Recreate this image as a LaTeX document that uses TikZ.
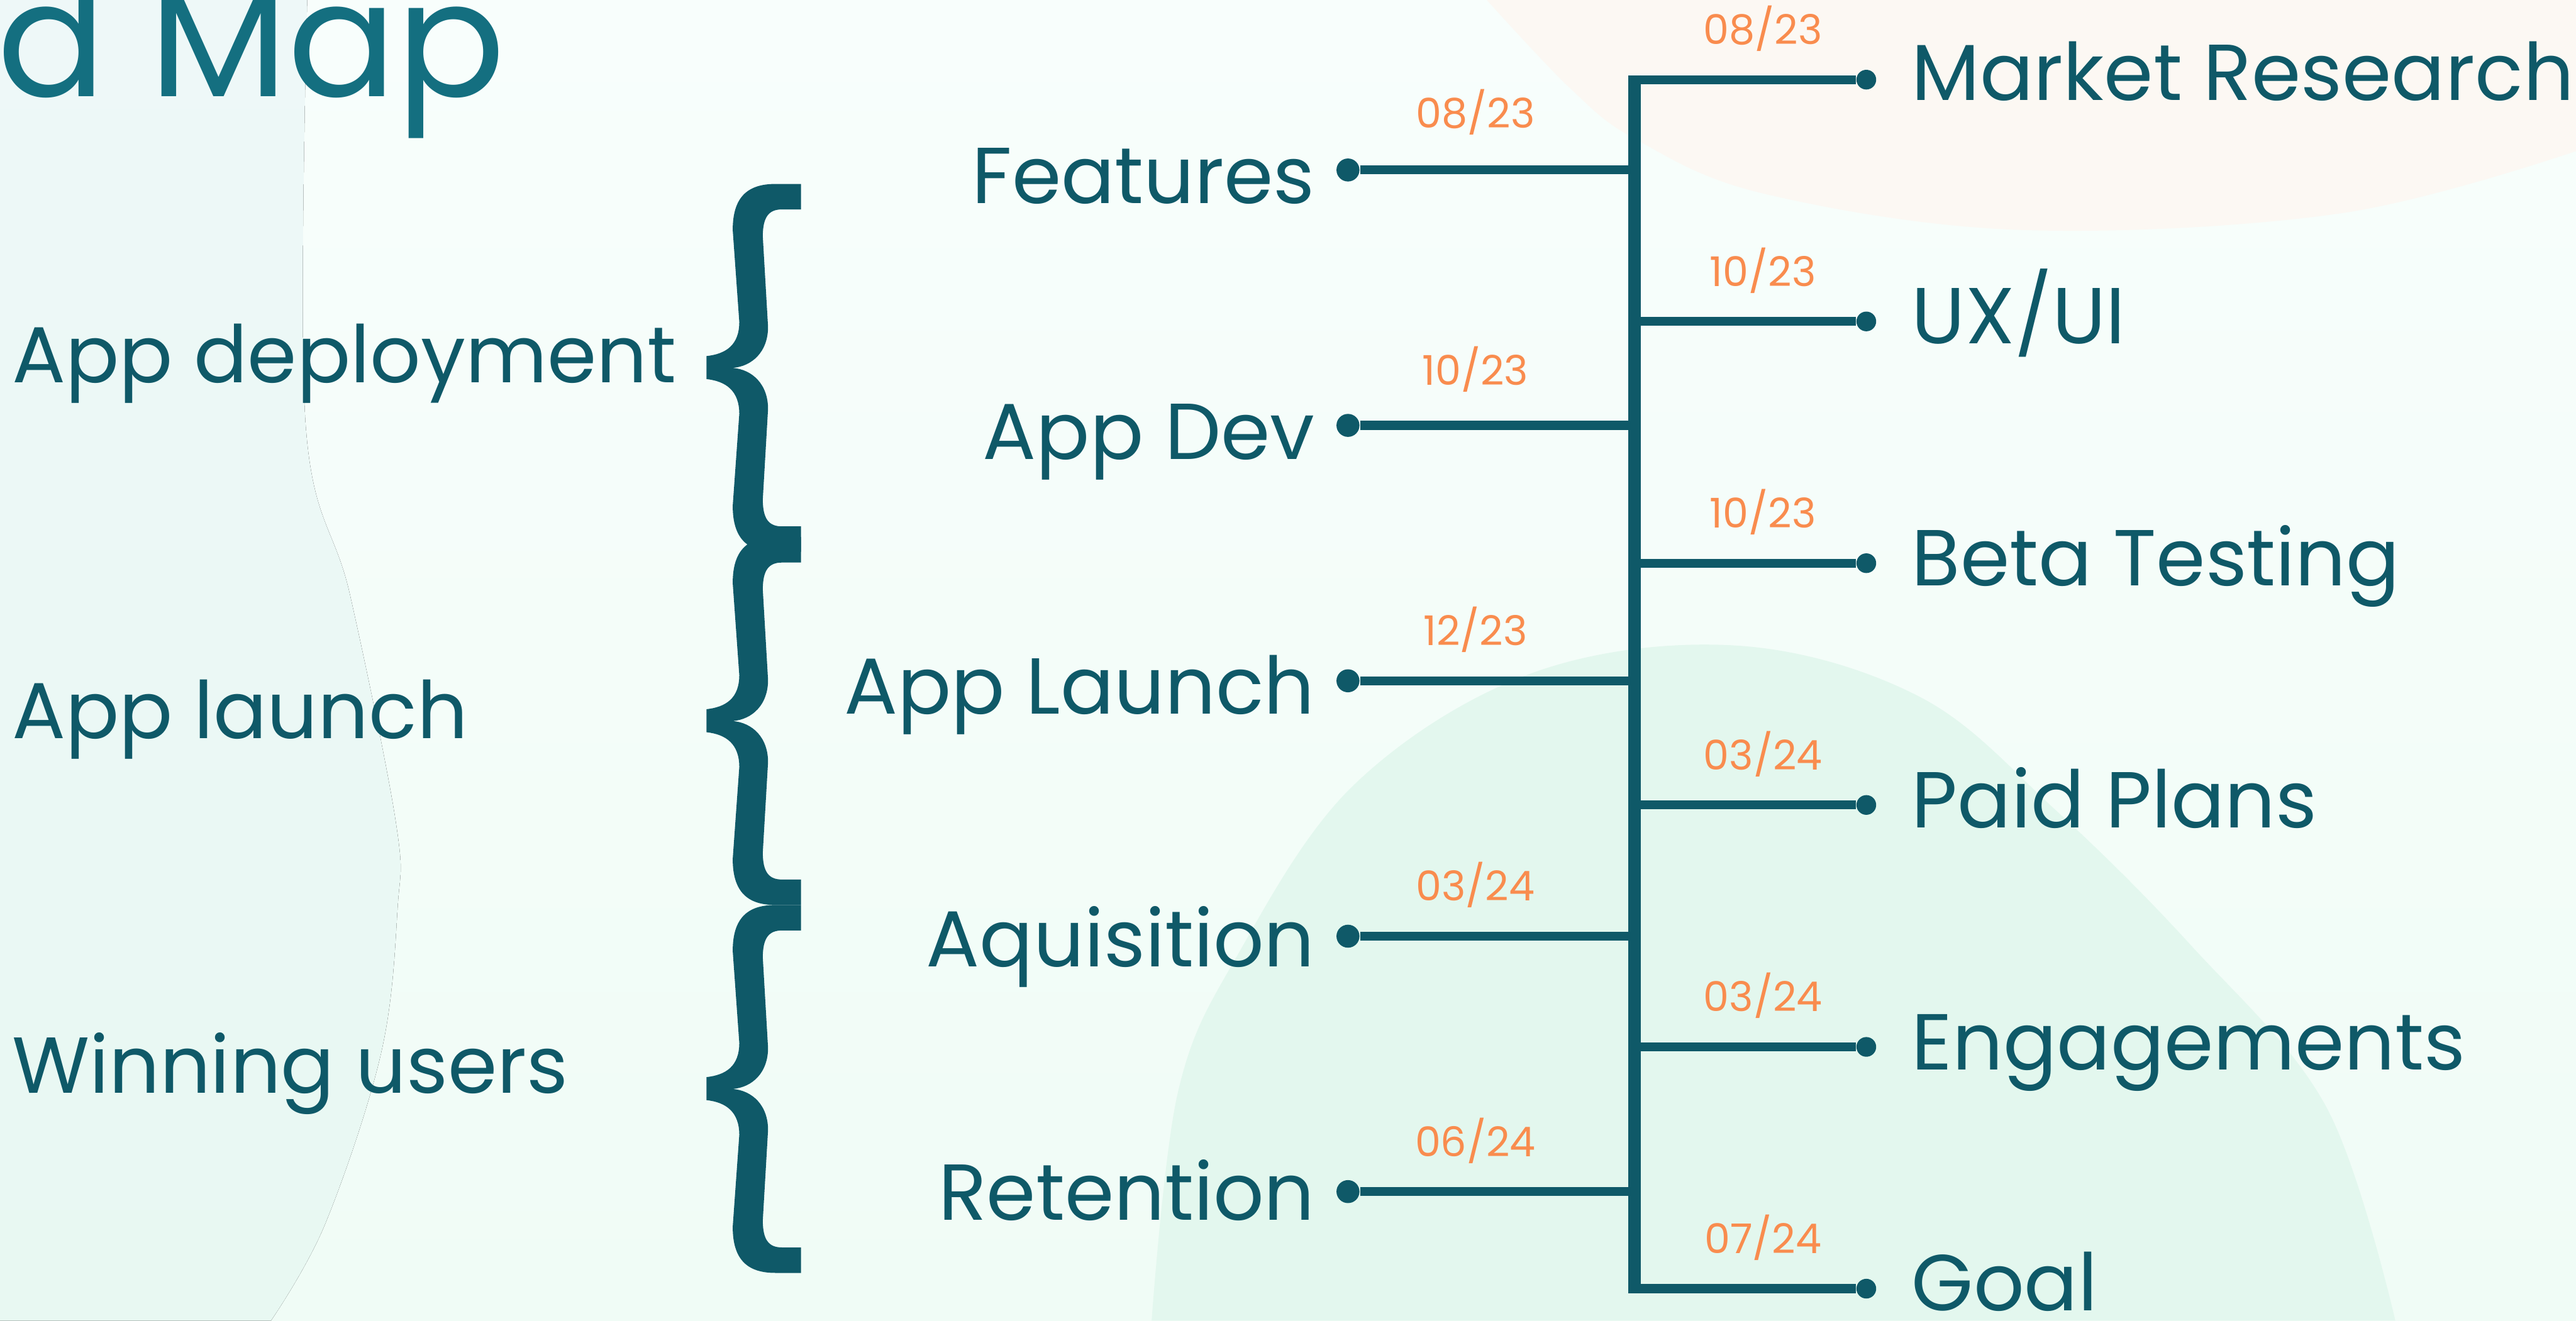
\documentclass[tikz,border=0pt]{standalone}
\usepackage{fontspec}
\setmainfont{Poppins}
\usepackage{xcolor}
\usepackage{tikz}
\usetikzlibrary{positioning}

\definecolor{ink}{HTML}{0F5968}
\definecolor{titleink}{HTML}{146F80}
\definecolor{dateorange}{HTML}{F98C4E}
\definecolor{mintpale}{HTML}{F8FEFC}
\definecolor{mintlow}{HTML}{F0FCF6}
\definecolor{blobleft}{HTML}{EEF8F8}
\definecolor{blobleftlow}{HTML}{E8F8F2}
\definecolor{blobpeach}{HTML}{FCF8F3}
\definecolor{blobgreen}{HTML}{E3F7EE}

\begin{document}
\begin{tikzpicture}[
    x=0.02cm, y=-0.02cm,
    trunk/.style={draw=ink, line width=4.3pt},
    branch/.style={draw=ink, line width=3.1pt},
    rdot/.style={circle, fill=ink, inner sep=0pt, minimum size=0.24cm},
    ldot/.style={circle, fill=ink, inner sep=0pt, minimum size=0.28cm},
    task/.style={font=\fontsize{27.5}{32}\selectfont, text=ink, inner sep=0pt},
    phase/.style={font=\fontsize{27.5}{32}\selectfont, text=ink, inner sep=0pt, anchor=base west},
    date/.style={font=\fontsize{14.2}{16}\selectfont, text=dateorange, inner sep=0pt,
                 pos=0.58, anchor=base, yshift=0.43cm},
    curly/.pic={
        \fill[ink] (0,0) -- (-15.6,0) .. controls (-32.6,0) and (-41.6,8) .. (-41.6,28)
            -- (-37.6,84) .. controls (-37.6,98) and (-45.6,103.5) .. (-57.6,104.8)
            -- (-57.6,118.8) .. controls (-45.6,120.1) and (-37.6,126) .. (-37.6,140)
            -- (-41.6,196) .. controls (-41.6,216) and (-32.6,224) .. (-15.6,224)
            -- (0,224) -- (0,208.5) -- (-11.6,208.5)
            .. controls (-19.6,208.5) and (-23.3,204) .. (-23.3,192)
            -- (-20.1,137) .. controls (-20.1,122) and (-29.6,113) .. (-41.6,112)
            .. controls (-29.6,111) and (-20.1,102) .. (-20.1,87)
            -- (-23.3,32) .. controls (-23.3,20) and (-19.6,15.5) .. (-11.6,15.5)
            -- (0,15.5) -- cycle;
    },
]
    \useasboundingbox (0,0) rectangle (1568,804);
    \clip (0,0) rectangle (1568,804);

    % Background
    \fill[top color=mintpale, bottom color=mintlow] (0,0) rectangle (1568,804);
    \fill[top color=blobleft, bottom color=blobleftlow] (0,0) -- plot[smooth, tension=0.6]
        coordinates {(187,0) (186,258) (213,362) (241,501) (242,553) (232,641) (198,745) (165,804)}
        -- (0,804) -- cycle;
    \fill[blobpeach] (905,0) -- plot[smooth, tension=0.6]
        coordinates {(905,0) (956,54) (996,85) (1074,118) (1230,140) (1424,130) (1568,92)}
        -- (1568,0) -- cycle;
    \fill[blobgreen] (701,804) -- plot[smooth, tension=0.6]
        coordinates {(701,804) (717,665) (753,582) (824,478) (932,410) (1056,393) (1168,424)
                     (1251,493) (1334,576) (1416,674) (1458,804)} -- cycle;

    % Title
    \node[anchor=base west, inner sep=0pt, text=titleink, font=\fontsize{55.8}{62}\selectfont]
        (title) at (-2,58.9) {d Map};

    % Phases
    \pic at (487.6,112) {curly};
    \pic at (487.6,327) {curly};
    \pic at (487.6,551) {curly};
    \node[phase] (deploy) at (7,233) {App deployment};
    \node[phase] (launch) at (7,449.7) {App launch};
    \node[phase] (winning) at (7,665.6) {Winning users};

    % Trunk
    \coordinate (ttop) at (995,45.75);
    \coordinate (tbot) at (995,787.35);
    \draw[trunk] (ttop) -- (tbot);

    % Left milestones
    \node[ldot] (dl1) at (820.5,103.5) {};
    \node[ldot] (dl2) at (820.5,259) {};
    \node[ldot] (dl3) at (820.5,414.5) {};
    \node[ldot] (dl4) at (820.5,570) {};
    \node[ldot] (dl5) at (820.5,725.5) {};

    \draw[branch] (dl1 -| ttop) -- node[date, yshift=0.08cm] (ld1) {08/23} (dl1);
    \draw[branch] (dl2 -| ttop) -- node[date, yshift=0.06cm] (ld2) {10/23} (dl2);
    \draw[branch] (dl3 -| ttop) -- node[date] (ld3) {12/23} (dl3);
    \draw[branch] (dl4 -| ttop) -- node[date] (ld4) {03/24} (dl4);
    \draw[branch] (dl5 -| ttop) -- node[date] (ld5) {06/24} (dl5);

    \node[task, left=0.25cm of dl1, anchor=base east, yshift=-0.41cm] (features) {Features};
    \node[task, left=0.25cm of dl2, anchor=base east, yshift=-0.41cm] (appdev) {App Dev};
    \node[task, left=0.25cm of dl3, anchor=base east, yshift=-0.40cm] (applaunch) {App Launch};
    \node[task, left=0.25cm of dl4, anchor=base east, yshift=-0.37cm] (aquisition) {Aquisition};
    \node[task, left=0.25cm of dl5, anchor=base east, yshift=-0.35cm] (retention) {Retention};

    % Right milestones
    \node[rdot] (dr1) at (1136,48.5) {};
    \node[rdot] (dr2) at (1136,195.7) {};
    \node[rdot] (dr3) at (1136,342.9) {};
    \node[rdot] (dr4) at (1136,490.1) {};
    \node[rdot] (dr5) at (1136,637.4) {};
    \node[rdot] (dr6) at (1136,784.6) {};

    \draw[branch] (dr1 -| ttop) -- node[date] (rd1) {08/23} (dr1);
    \draw[branch] (dr2 -| ttop) -- node[date] (rd2) {10/23} (dr2);
    \draw[branch] (dr3 -| ttop) -- node[date] (rd3) {10/23} (dr3);
    \draw[branch] (dr4 -| ttop) -- node[date] (rd4) {03/24} (dr4);
    \draw[branch] (dr5 -| ttop) -- node[date] (rd5) {03/24} (dr5);
    \draw[branch] (dr6 -| ttop) -- node[date] (rd6) {07/24} (dr6);

    \node[task, right=0.42cm of dr1, anchor=base west, yshift=-0.25cm] (market) {Market Research};
    \node[task, right=0.42cm of dr2, anchor=base west, yshift=-0.27cm] (uxui) {UX/UI};
    \node[task, right=0.42cm of dr3, anchor=base west, yshift=-0.27cm] (beta) {Beta Testing};
    \node[task, right=0.42cm of dr4, anchor=base west, yshift=-0.28cm] (paid) {Paid Plans};
    \node[task, right=0.42cm of dr5, anchor=base west, yshift=-0.28cm] (engage) {Engagements};
    \node[task, right=0.42cm of dr6, anchor=base west, yshift=-0.27cm] (goal) {Goal};
\end{tikzpicture}
\end{document}
